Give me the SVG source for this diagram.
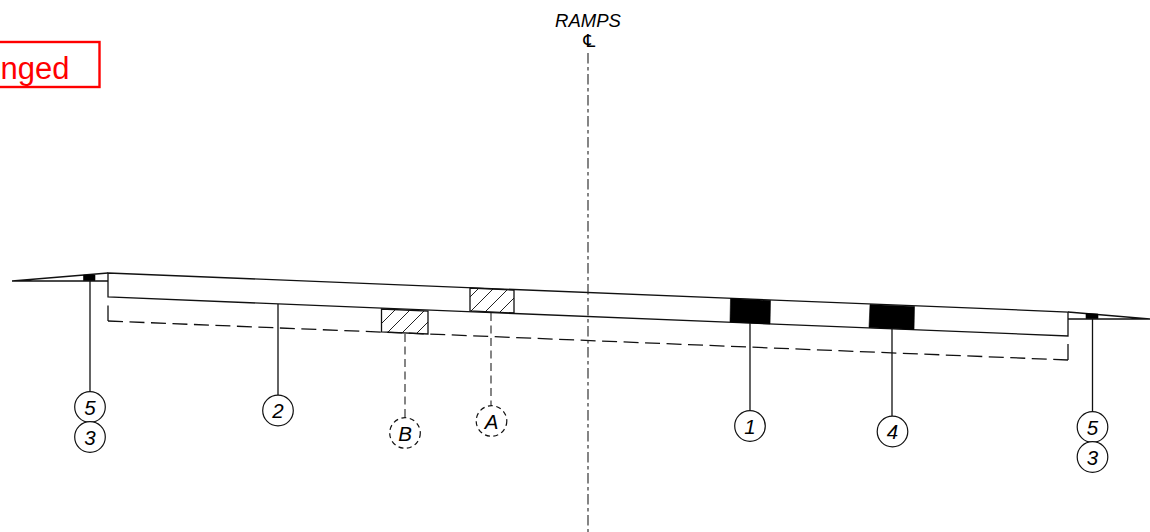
<svg xmlns="http://www.w3.org/2000/svg" width="1150" height="532" viewBox="0 0 1150 532">
<style>
.l{fill:none;stroke:#111;stroke-width:1.3}
.d{fill:none;stroke:#111;stroke-width:1.3;stroke-dasharray:15 6.5}
.cl{fill:none;stroke:#222;stroke-width:1.1;stroke-dasharray:10.500 3.500 3.500 3.500}
.ld{fill:none;stroke:#222;stroke-width:1.1;stroke-dasharray:8 4.500}
.c{fill:#fff;stroke:#111;stroke-width:1.2}
.cd{fill:#fff;stroke:#111;stroke-width:1.2;stroke-dasharray:5 3.500}
.t{font:italic 18.500px "Liberation Sans",Arial,sans-serif;fill:#000;text-anchor:middle}
.n{font:italic 20.500px "Liberation Sans",Arial,sans-serif;fill:#000;text-anchor:middle}
.k{fill:#000;stroke:#000;stroke-width:.6}
.ha{fill:url(#hatchA);stroke:#111;stroke-width:1.3}
.hb{fill:url(#hatchB);stroke:#111;stroke-width:1.3}
</style>
<defs>
<pattern id="hatchA" patternUnits="userSpaceOnUse" width="15" height="15" patternTransform="translate(2 0)">
<path d="M-1 1L1 -1M-1 16L16 -1M14 16L16 14" fill="none" stroke="#222" stroke-width="1"/>
</pattern>
<pattern id="hatchB" patternUnits="userSpaceOnUse" width="15" height="15">
<path d="M-1 1L1 -1M-1 16L16 -1M14 16L16 14" fill="none" stroke="#222" stroke-width="1"/>
</pattern>
</defs>
<g id="change-flag">
<rect x="-20" y="42" width="119.500" height="45" fill="#fff" stroke="#f00" stroke-width="2.400"/>
<text x="69.500" y="79" text-anchor="end" style="font:31px 'Liberation Sans',Arial,sans-serif;fill:#f00">nged</text>
</g>
<g id="deck">
<path class="l" d="M108 273L1068 312V336L108 297Z"/>
<path class="d" d="M108 321L1068 360"/>
<path class="l" d="M108 305.500V321M1068 344V360"/>
<path class="l" d="M12 281L108 273M12 281H108M1068 312L1150 319M1068 319H1150"/>
<path class="k" d="M83.500 275H95V280.500H83.500ZM1086 313.500L1098 314V318.500H1086Z"/>
</g>
<g id="blocks">
<path class="ha" d="M470 288L514 290V313L470 311Z"/>
<path class="hb" d="M381.500 309L428 311V334L381.500 332Z"/>
<path class="k" d="M730.500 298.500L770.500 300.500L770 324L730 322Z"/>
<path class="k" d="M870 304.500L914.500 306.500L914 329.500L869 327.500Z"/>
</g>
<g id="connectors">
<path class="cl" d="M588 53V532"/>
<path class="l" d="M90 281V392M278 304V395M750 323V411M892 329V416M1092.500 319V412"/>
<path class="ld" d="M405 334V418M491 313V405"/>
</g>
<g id="ramps-label">
<text class="t" x="588" y="27">RAMPS</text>
<text x="589" y="47" text-anchor="middle" style="font:italic 18px 'DejaVu Sans',sans-serif;fill:#000">℄</text>
</g>
<g id="n5l"><circle class="c" cx="90" cy="407" r="15.300"/><text class="n" x="90" y="414.500">5</text></g>
<g id="n3l"><circle class="c" cx="90" cy="437" r="15.300"/><text class="n" x="90" y="444.500">3</text></g>
<g id="n2"><circle class="c" cx="278" cy="410.500" r="15.300"/><text class="n" x="278" y="418">2</text></g>
<g id="nB"><circle class="cd" cx="405" cy="433" r="15.300"/><text class="n" x="405" y="440.500">B</text></g>
<g id="nA"><circle class="cd" cx="491.500" cy="421" r="15.300"/><text class="n" x="491.500" y="428.500">A</text></g>
<g id="n1"><circle class="c" cx="750" cy="426" r="15.300"/><text class="n" x="750" y="433.500">1</text></g>
<g id="n4"><circle class="c" cx="892.500" cy="431.500" r="15.300"/><text class="n" x="892.500" y="439">4</text></g>
<g id="n5r"><circle class="c" cx="1092.500" cy="427" r="15.300"/><text class="n" x="1092.500" y="434.500">5</text></g>
<g id="n3r"><circle class="c" cx="1092.500" cy="457" r="15.300"/><text class="n" x="1092.500" y="464.500">3</text></g>
</svg>
